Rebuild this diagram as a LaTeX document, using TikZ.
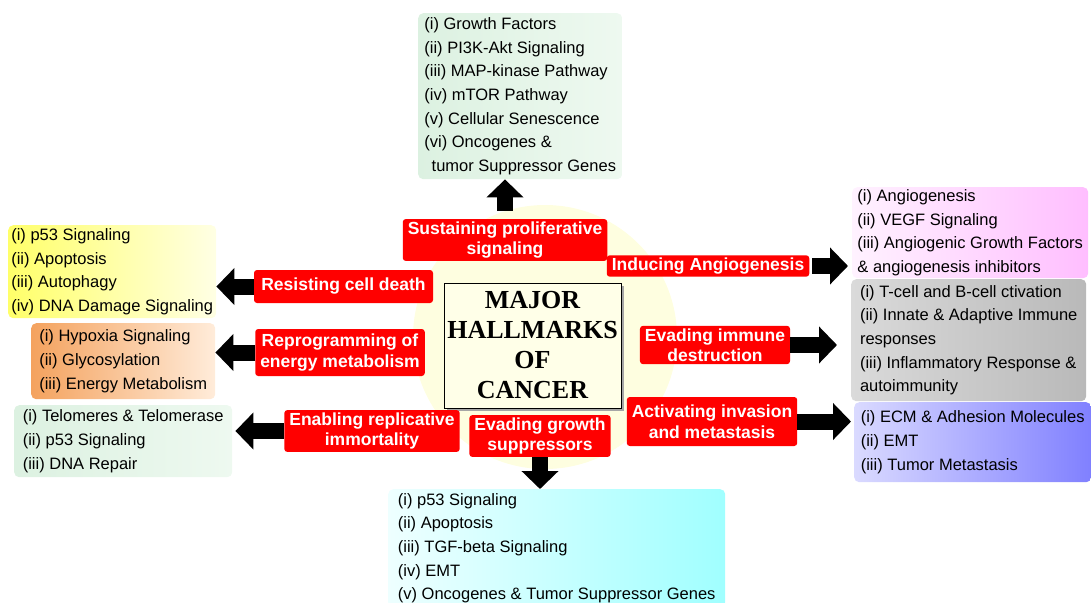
\documentclass[tikz,border=0pt]{standalone}
\usepackage{fontspec}
\setmainfont{Liberation Sans}
\newfontfamily\titlefont{Liberation Serif}
\usetikzlibrary{arrows.meta,shadows}
\definecolor{hred}{RGB}{255,0,0}
\definecolor{glow}{RGB}{254,254,224}
\definecolor{titlefill}{RGB}{255,255,232}
\definecolor{mintA}{RGB}{220,241,225}
\definecolor{mintB}{RGB}{238,249,240}
\definecolor{sunA}{RGB}{255,255,105}
\definecolor{sunB}{RGB}{255,255,228}
\definecolor{peachA}{RGB}{244,162,94}
\definecolor{peachB}{RGB}{255,236,218}
\definecolor{orchidA}{RGB}{255,242,255}
\definecolor{orchidB}{RGB}{255,190,255}
\definecolor{smokeA}{RGB}{218,218,218}
\definecolor{smokeB}{RGB}{185,185,185}
\definecolor{lavA}{RGB}{218,218,255}
\definecolor{lavB}{RGB}{128,128,255}
\definecolor{aquaA}{RGB}{238,255,255}
\definecolor{aquaB}{RGB}{160,255,255}
\tikzset{
	hallmark/.style={fill=hred, text=white, rounded corners=3pt, align=center,
		inner xsep=5pt, inner ysep=2.5pt, font=\fontsize{17.5}{20.5}\selectfont\bfseries},
	itembox/.style={rounded corners=5pt, anchor=north west, align=left, inner sep=0pt,
		font=\fontsize{16.5}{23.6}\selectfont},
	bigarrow/.style={line width=16pt, -{Triangle[length=18pt,width=36pt]}},
}
\begin{document}
\begin{tikzpicture}[x=1pt,y=-1pt]
	\useasboundingbox (0,0) rectangle (1091,602);
	% glow behind the title
	\fill[glow] (545,337) circle (132);
	\node[draw=black, fill=titlefill, minimum width=177pt, minimum height=125pt, align=center,
		font=\titlefont\fontsize{26}{30}\selectfont\bfseries,
		drop shadow={shadow xshift=3pt, shadow yshift=-3pt, fill=gray!70, opacity=1}]
		(title) at (532.5,345.5) {MAJOR\\HALLMARKS\\OF\\CANCER};
	
	% hallmarks
	\node[hallmark] (sust) at (505,240) {Sustaining proliferative\\signaling};
	\node[hallmark] (induce) at (708,266) {Inducing Angiogenesis};
	\node[hallmark, minimum height=33pt, minimum width=179pt] (resist) at (343.5,286.5) {Resisting cell death};
	\node[hallmark, minimum height=47pt] (reprog) at (340,352.5) {Reprogramming of\\energy metabolism};
	\node[hallmark] (immune) at (715,345) {Evading immune\\destruction};
	\node[hallmark] (enable) at (372,431) {Enabling replicative\\immortality};
	\node[hallmark] (suppress) at (540,436) {Evading growth\\suppressors};
	\node[hallmark, minimum height=49pt] (invade) at (712,421.5) {Activating invasion\\and metastasis};
	
	% lists
	\node[itembox, left color=mintA, right color=mintB, minimum width=204pt, minimum height=166pt]
		(growth) at (418,13) {(i) Growth Factors\\(ii) PI3K-Akt Signaling\\(iii) MAP-kinase Pathway\\(iv) mTOR Pathway\\(v) Cellular Senescence\\(vi) Oncogenes \&\\\ \,tumor Suppressor Genes};
	\node[itembox, left color=sunA, right color=sunB, minimum width=208pt, minimum height=93pt]
		(death) at (8,225) {(i) p53 Signaling\\(ii) Apoptosis\\(iii) Autophagy\\(iv) DNA Damage Signaling};
	\node[itembox, left color=peachA, right color=peachB, minimum width=184pt, minimum height=76pt]
		(energy) at (31,323) {(i) Hypoxia Signaling\\(ii) Glycosylation\\(iii) Energy Metabolism};
	\node[itembox, left color=mintA, right color=mintB, minimum width=218pt, minimum height=72pt]
		(telo) at (14,405) {(i) Telomeres \& Telomerase\\(ii) p53 Signaling\\(iii) DNA Repair};
	\node[itembox, left color=orchidA, right color=orchidB, minimum width=236pt, minimum height=91pt]
		(angio) at (852,187) {(i) Angiogenesis\\(ii) VEGF Signaling\\(iii) Angiogenic Growth Factors\\\& angiogenesis inhibitors};
	\node[itembox, left color=smokeA, right color=smokeB, minimum width=235pt, minimum height=122pt]
		(immun) at (851,279) {(i) T-cell and B-cell ctivation\\(ii) Innate \& Adaptive Immune\\responses\\(iii) Inflammatory Response \&\\autoimmunity};
	\node[itembox, left color=lavA, right color=lavB, minimum width=237pt, minimum height=80pt]
		(meta) at (854,402) {(i) ECM \& Adhesion Molecules\\(ii) EMT\\(iii) Tumor Metastasis};
	\node[itembox, left color=aquaA, right color=aquaB, minimum width=337pt, minimum height=118pt]
		(tsg) at (388,489) {(i) p53 Signaling\\(ii) Apoptosis\\(iii) TGF-beta Signaling\\(iv) EMT\\(v) Oncogenes \& Tumor Suppressor Genes};
	
	% arrows
	\draw[bigarrow, shorten <=8pt] (sust.north) -- (sust.north |- growth.south);
	\draw[bigarrow] (resist.west) -- (resist.west -| death.east);
	\draw[bigarrow] (reprog.west) -- (reprog.west -| energy.east);
	\draw[bigarrow, shorten >=3pt] (enable.west) -- (enable.west -| telo.east);
	\draw[bigarrow, shorten <=3pt, shorten >=4pt] (induce.east) -- (induce.east -| angio.west);
	\draw[bigarrow, shorten >=14pt] (immune.east) -- (immune.east -| immun.west);
	\draw[bigarrow, shorten >=3pt] (invade.east) -- (invade.east -| meta.west);
	\draw[bigarrow] (suppress.south) -- (suppress.south |- tsg.north);
\end{tikzpicture}
\end{document}
